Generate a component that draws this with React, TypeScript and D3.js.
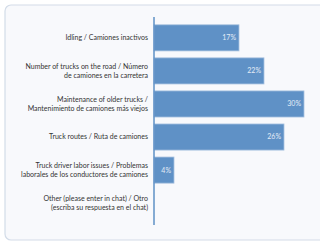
import React from 'react';
import * as d3 from 'd3';

const categories = [
  ['Idling / Camiones inactivos'],
  ['Number of trucks on the road / Número', 'de camiones en la carretera'],
  ['Maintenance of older trucks /', 'Mantenimiento de camiones más viejos'],
  ['Truck routes / Ruta de camiones'],
  ['Truck driver labor issues / Problemas', 'laborales de los conductores de camiones'],
  ['Other (please enter in chat) / Otro', '(escriba su respuesta en el chat)'],
];
const values = [17, 22, 30, 26, 4, 0];

export default function App() {
  const W = 320, H = 244;
  const x0 = 154;
  const x = d3.scaleLinear().domain([0, 30]).range([x0, x0 + 150]);
  const y = d3.scaleBand<number>().domain(d3.range(values.length)).range([21.5, 219.5]).paddingInner(0.21).paddingOuter(0.1);
  const font = 'Lato, "Open Sans", sans-serif';

  return (
    <div style={{ position: 'fixed', left: 0, top: 0 }}>
      <svg width={W} height={H} style={{ display: 'block', background: '#fff' }}>
        <rect x={5} y={5} width={330} height={235} rx={6} fill="#f8f9fc" stroke="#d3dce8" strokeWidth={1.2} />
        {values.map((v, i) => (
          <rect key={i} x={x(0)} y={y(i)} width={x(v) - x(0)} height={y.bandwidth()}
            fill="#5f91c6" stroke="#a9c3e0" strokeWidth={0.8} />
        ))}
        <line x1={x0} x2={x0} y1={17} y2={225} stroke="#5f91c6" strokeWidth={1.5} />
        {categories.map((lines, i) => {
          const cy = (y(i) ?? 0) + y.bandwidth() / 2;
          const lh = 9.5;
          const start = cy - ((lines.length - 1) * lh) / 2;
          return (
            <text key={i} x={148} textAnchor="end" fontFamily={font} fontSize={7} fill="#333">
              {lines.map((l, j) => (
                <tspan key={j} x={148} y={start + j * lh} dy="0.35em">{l}</tspan>
              ))}
            </text>
          );
        })}
        {values.map((v, i) => v > 0 && (
          <text key={i} x={x(v) - 3} y={(y(i) ?? 0) + y.bandwidth() / 2} dy="0.35em" textAnchor="end"
            fontFamily={font} fontSize={7} fill="#e3ecf6">{v}%</text>
        ))}
      </svg>
    </div>
  );
}
